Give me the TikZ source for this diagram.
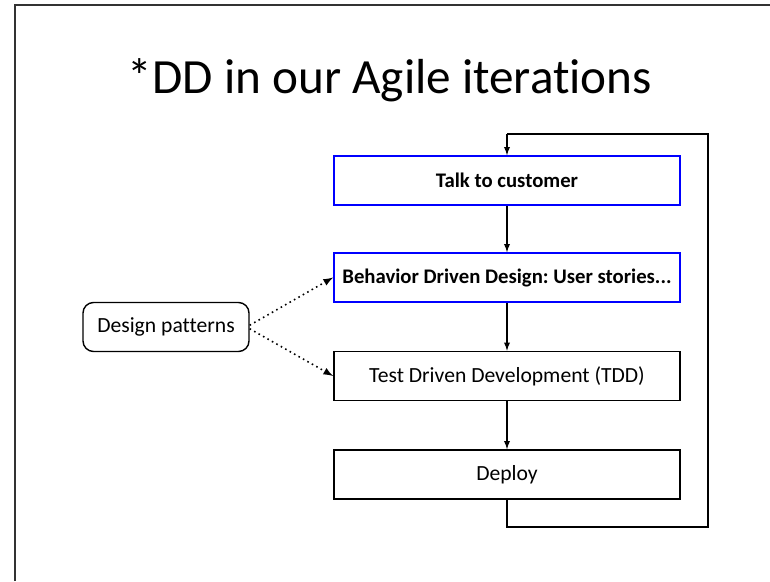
\documentclass[tikz,border=0pt]{standalone}
\usepackage{fontspec}
\setmainfont[Ligatures=NoCommon]{Carlito}
\usetikzlibrary{calc, positioning, shapes, arrows}
\frenchspacing

\begin{document}
\begin{tikzpicture}[>=latex,
  stage/.style={draw, line width=1pt, minimum width=6.92cm, minimum height=0.98cm, font=\fontsize{12.3}{14}\selectfont},
  bdd/.style={stage, draw=blue, font=\fontsize{11.8}{14}\selectfont\bfseries},
  flow/.style={->, line width=0.6pt},
  hint/.style={->, line width=0.9pt, dotted}]

\useasboundingbox (0,0) rectangle (15.4,11.62);

% slide frame
\draw[line width=0.6pt, black!80] (0.3,0) -- (0.3,11.52) -- (15.4,11.52);

% title
\node (title) at (7.8,10.02) {\fontsize{28}{32}\selectfont *DD in our Agile iterations};

% --- the four stages of an iteration ---
\node[bdd]   (talk)   at (10.14,8.01) {Talk to customer};
\node[bdd]   (story)  at (10.14,6.07) {Behavior Driven Design: User stories...};
\node[stage] (tdd)    at (10.14,4.10) {Test Driven Development (TDD)};
\node[stage] (deploy) at (10.14,2.13) {Deploy};

\draw[flow] (talk) -- (story);
\draw[flow] (story) -- (tdd);
\draw[flow] (tdd) -- (deploy);

% --- back round to the customer ---
\coordinate (loopdown) at (10.14,1.08);
\coordinate (loopup)   at (10.14,8.94);
\draw[line width=1pt] (deploy.south) -- (loopdown) -| (14.16,8.94) -- (loopup);
\draw[flow] (loopup) -- (talk.north);

% --- design patterns feed BDD and TDD ---
\node[draw, line width=0.8pt, rounded corners=6pt, minimum width=3.32cm, minimum height=0.98cm,
      font=\fontsize{12.3}{14}\selectfont] (patterns) at (3.32,5.08) {Design patterns};

\draw[hint] ([yshift=1pt]patterns.east) -- (story.west);
\draw[hint] ([yshift=-1pt]patterns.east) -- (tdd.west);

\end{tikzpicture}
\end{document}
